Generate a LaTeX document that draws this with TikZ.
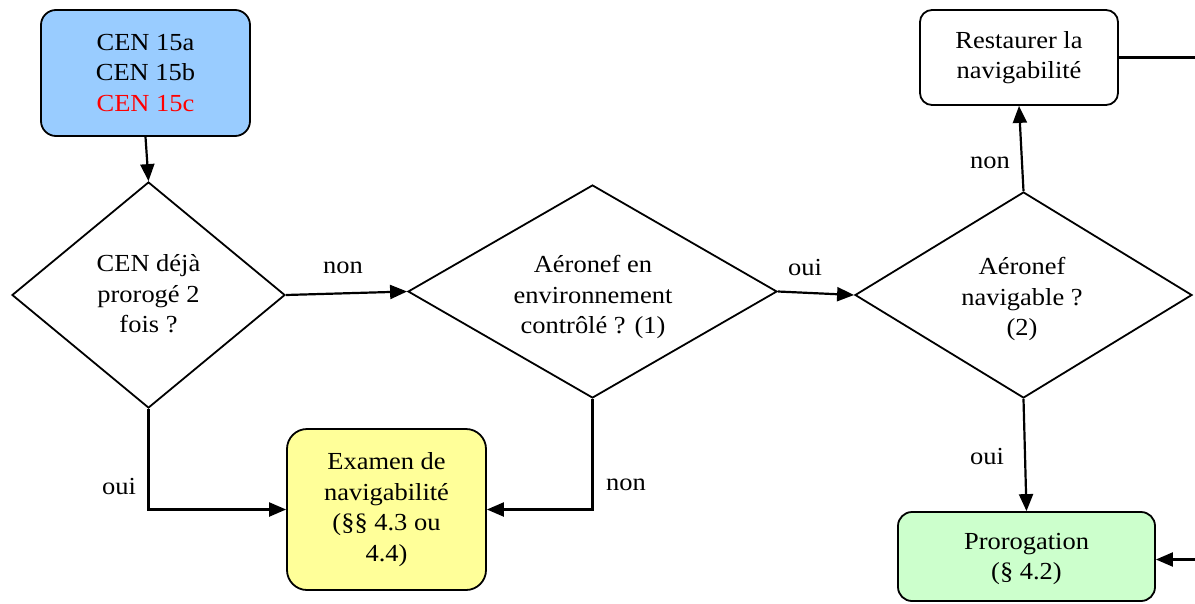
\documentclass[tikz,border=0pt]{standalone}
\usepackage{fontspec}
\setmainfont[FakeStretch=1.08]{Liberation Serif}
\usetikzlibrary{shapes.geometric,arrows.meta}
\definecolor{boxblue}{HTML}{99CCFF}
\definecolor{boxyellow}{HTML}{FFFF99}
\definecolor{boxgreen}{HTML}{CCFFCC}
\definecolor{txtred}{HTML}{FF0000}
\tikzset{
  every node/.style={font=\fontsize{24.5}{30.5}\selectfont, align=center},
  rbox/.style={draw, line width=1.8pt, rounded corners=15pt, inner sep=0pt},
  decision/.style={draw, diamond, line width=1.8pt, inner sep=0pt},
  flow/.style={line width=2.2pt, -{Triangle[length=17pt,width=14pt]}},
  lbl/.style={inner sep=1pt}
}
\begin{document}
\begin{tikzpicture}[x=1pt,y=-1pt]
\useasboundingbox (0,0) rectangle (1195,603);
\clip (0,0) rectangle (1195,603);

% boxes
\node[rbox, fill=boxblue, minimum width=209pt, minimum height=126pt] (cen) at (145.5,73)
  {CEN 15a\\CEN 15b\\\textcolor{txtred}{CEN 15c}};
\node[rbox, fill=white, rounded corners=12pt, minimum width=198pt, minimum height=95pt] (rest) at (1019,57.5)
  {Restaurer la\\navigabilité};
\node[rbox, fill=boxyellow, rounded corners=20pt, minimum width=199pt, minimum height=161pt] (exam) at (386.5,509.5)
  {Examen de\\navigabilité\\(§§ 4.3 ou\\4.4)};
\node[rbox, fill=boxgreen, rounded corners=14pt, minimum width=257pt, minimum height=89pt] (prog) at (1026.5,556.5) {};
\node (progt) at (1026.5,559) {Prorogation\\(§ 4.2)};

% decisions
\node[decision, aspect=1.208, minimum width=273pt, minimum height=226pt] (d1) at (148.5,295) {};
\node (d1t) at (148.5,294) {CEN déjà\\prorogé 2\\fois ?};
\node[decision, aspect=1.732, minimum width=369pt, minimum height=213pt] (d2) at (592.5,291.5) {};
\node (d2t) at (593,297) {Aéronef en\\environnement\\contrôlé ? (1)};
\node[decision, aspect=1.636, minimum width=337pt, minimum height=206pt] (d3) at (1023.5,295) {};
\node (d3t) at (1022,299) {Aéronef\\navigable ?\\(2)};

% connectors
\draw[flow] (cen.south) -- (d1.north);
\draw[flow] (d1.east) -- (d2.west);
\draw[flow] (d2.east) -- (d3.west);
\draw[flow] (d3.north) -- (rest.south);
\draw[flow] (d3.south) -- (prog.north);
\draw[flow] (d1.south) |- (exam.west);
\draw[flow] (d2.south) |- (exam.east);
\coordinate (back) at (1215,57.5);
\draw[flow] (rest.east) -- (back) |- ([yshift=-3pt]prog.east);

% branch labels
\node[lbl] (l1) at (343,268) {non};
\node[lbl] (l2) at (805,268) {oui};
\node[lbl] (l3) at (990,163) {non};
\node[lbl] (l4) at (987,457) {oui};
\node[lbl] (l5) at (119,487) {oui};
\node[lbl] (l6) at (626,485) {non};
\end{tikzpicture}
\end{document}
